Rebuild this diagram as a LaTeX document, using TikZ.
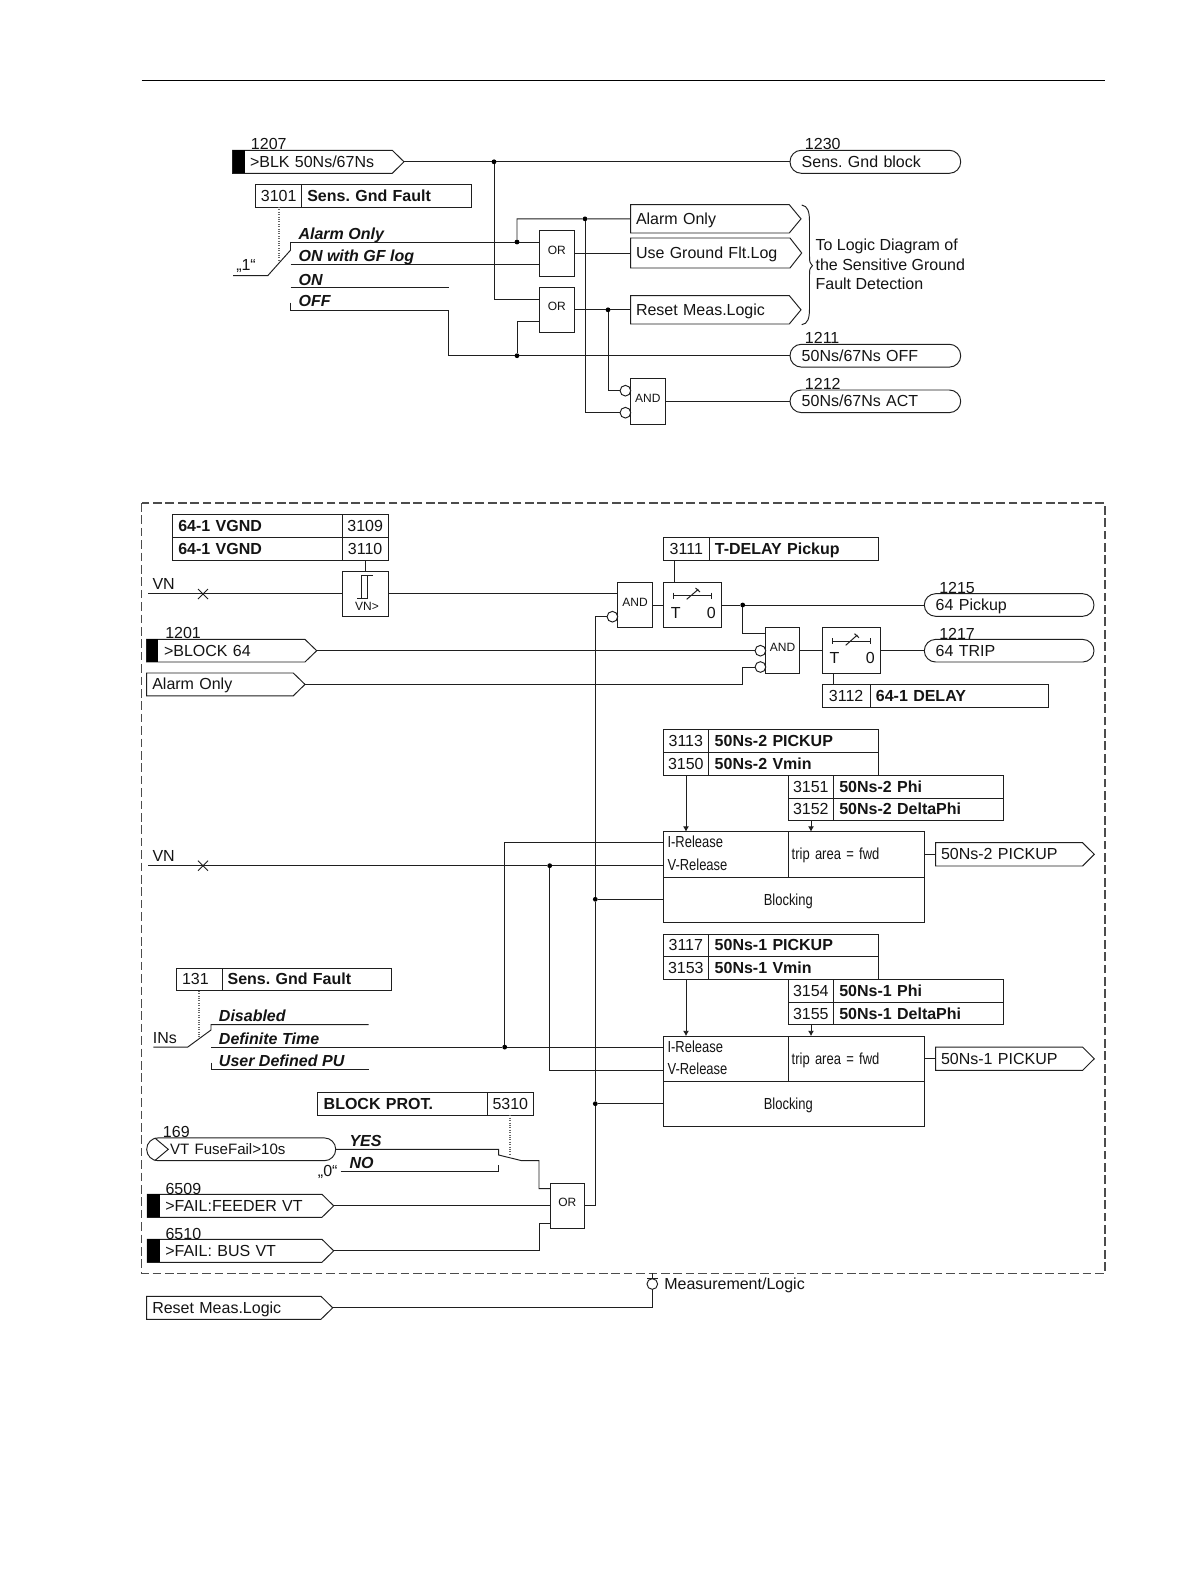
\documentclass[tikz,border=0pt]{standalone}
\usepackage{fontspec}
\setmainfont{Liberation Sans}
\newfontfamily\condf[FakeStretch=0.81]{Liberation Sans}
\usetikzlibrary{arrows.meta}
\AtBeginDocument{\frenchspacing}
\tikzset{
  wire/.style={line width=0.72pt,draw=black!88},
  cell/.style={draw=black!88,line width=0.72pt},
  gate/.style={draw=black!88,line width=0.72pt,font=\fontsize{9}{10}\selectfont,text height=3pt,text depth=1.5pt},
  bubble/.style={circle,draw=black!88,line width=0.72pt,minimum size=8pt,inner sep=0pt,outer sep=0pt},
  dot/.style={circle,fill=black,minimum size=3.6pt,inner sep=0pt,outer sep=0pt},
  txt/.style={anchor=base west,inner sep=0pt,yshift=-0.5pt},
  swt/.style={anchor=base west,inner sep=0pt,yshift=-0.75pt,font=\fontsize{12}{14}\selectfont\bfseries\itshape},
  boldtxt/.style={font=\fontsize{12}{14}\selectfont\bfseries},
  condt/.style={anchor=base west,inner sep=0pt,font=\fontsize{12}{14}\selectfont\condf},
  arr/.style={wire,-{Latex[length=4pt,width=4.5pt]}}
}
% centred box between two corners
\def\cellbox[#1]#2(#3,#4)(#5,#6)#7{%
  \node[minimum width={(#5-#3)*0.75pt},minimum height={(#6-#4)*0.75pt},inner sep=0pt,outer sep=0pt,text height=8.3pt,text depth=0pt,#1] (#2) at ({(#3+#5)/2},{(#4+#6)/2}) {#7};}
% box with left aligned text (inset in px)
\def\leftbox[#1]#2(#3,#4)(#5,#6)#7#8{%
  \pgfmathsetlengthmacro\tmpw{(#5-#3)*0.75pt}\pgfmathsetlengthmacro\tmpi{#7*0.75pt}%
  \node[minimum width=\tmpw,minimum height={(#6-#4)*0.75pt},text width=\tmpw,align=left,inner sep=0pt,outer sep=0pt,text height=8.3pt,text depth=0pt,#1] (#2) at ({(#3+#5)/2},{(#4+#6)/2}) {\hspace*{\tmpi}#8};}
\def\pentbox#1(#2,#3)(#4,#5)#6#7{%
  \leftbox[]{#1}(#2,#3)(#4,#5){#6}{#7}%
  \draw[wire] (#1.north west) -- ([xshift=-8.8pt]#1.north east) -- (#1.east) -- ([xshift=-8.8pt]#1.south east) -- (#1.south west) -- cycle;}
\def\rndbox#1(#2,#3)(#4,#5)#6#7{%
  \leftbox[]{#1}(#2,#3)(#4,#5){#6}{#7}%
  \draw[wire,rounded corners=8.5pt] (#1.south west) rectangle (#1.north east);}
\begin{document}
\begin{tikzpicture}[x=0.75pt,y=-0.75pt,every node/.style={font=\fontsize{12}{14}\selectfont,text=black!92}]
\useasboundingbox (0,0) rectangle (1191,1587);
\path[fill=white] (0,0) rectangle (1191,1587);
% header rule and dashed frame
\coordinate (ruleL) at (141.7,80.3);
\coordinate (ruleR) at (1105,80.3);
\draw[line width=0.7pt] (ruleL) -- (ruleR);
\draw[line width=0.8pt,draw=black!70,dash pattern=on 6.5pt off 2.8pt] (141.7,503) rectangle (1105,1273.3);

%% ------------------ upper diagram
\pentbox{blk}(232.5,150.3)(404,173.3){17.5}{>BLK 50Ns/67Ns}
\fill (blk.north west) rectangle ([xshift=9pt]blk.south west);
\node[txt] (n1207) at (250.7,149.3) {1207};
\rndbox{sgb}(790,150.3)(960.7,173.3){11.7}{Sens. Gnd block}
\node[txt] (n1230) at (804.7,149.3) {1230};
\cellbox[cell]{t3101a}(255.7,184.7)(301.7,207){3101}
\leftbox[cell,boldtxt]{t3101b}(301.7,184.7)(471,207){5.6}{Sens. Gnd Fault}
\cellbox[gate]{or1}(539.5,230)(574,276){OR}
\cellbox[gate]{or2}(539.5,287)(574,332.6){OR}
\cellbox[gate]{and0}(630.7,378.3)(665,424.3){AND}
\node[bubble] (b1) at (625.4,390.7) {};
\node[bubble] (b2) at (625.4,412.7) {};
\pentbox{alarm}(630.7,204.7)(801,233){5.3}{Alarm Only}
\pentbox{useg}(630.7,238)(801.7,268){5.3}{Use Ground Flt.Log}
\pentbox{reset}(630.7,295.6)(801,324){5.3}{Reset Meas.Logic}
\rndbox{off}(790,344.3)(960.7,367.1){11.7}{50Ns/67Ns OFF}
\node[txt] (n1211) at (804.7,343) {1211};
\rndbox{acts}(790,390)(960.7,412.6){11.7}{50Ns/67Ns ACT}
\node[txt] (n1212) at (804.7,389) {1212};
\node[dot] (j1) at (494,161.8) {};
\node[dot] (j2) at (517,242) {};
\node[dot] (j3) at (585,218.85) {};
\node[dot] (j4) at (608,309.8) {};
\node[dot] (j5) at (517,355.7) {};
\coordinate (or2i1) at (539.5,299);
\coordinate (or2i2) at (539.5,321.7);
\coordinate (or1i1) at (539.5,242);
\coordinate (or1i2) at (539.5,264.7);
\coordinate (swA) at (290.7,242);
\coordinate (swB) at (290.7,264.7);
\coordinate (swC) at (290.7,287);
\coordinate (swCe) at (448.7,287);
\coordinate (swDt) at (290.7,302.7);
\coordinate (swD) at (290.7,310.3);
\coordinate (swDe) at (448.7,310.3);
\coordinate (swE) at (448.7,355.7);
\coordinate (swIn) at (233,275.7);
\coordinate (swK) at (267.7,275.7);
\coordinate (swT) at (290.7,250);
\coordinate (dot1a) at (279,207);
\coordinate (dot1b) at (279,260);
\draw[wire] (blk.east) -- (j1) -- (sgb.west);
\draw[wire] (j1) |- (or2i1);
\draw[wire] (swA) -- (j2) -- (or1i1);
\draw[wire] (j2) |- (j3) -- (alarm.west);
\draw[wire] (j3) |- (b2.west);
\draw[wire] (swB) -- (or1i2);
\draw[wire] (swC) -- (swCe);
\draw[wire] (swDt) -- (swD) -- (swDe) -- (swE) -- (j5) -- (off.west);
\draw[wire] (j5) |- (or2i2);
\draw[wire] (or1.east) -- (useg.west);
\draw[wire] (or2.east) -- (j4) -- (reset.west);
\draw[wire] (j4) |- (b1.west);
\draw[wire] (and0.east) -- (acts.west);
\draw[wire] (swIn) -- (swK) -- (swT);
\draw[wire] (swA) -- (swT);
\draw[line width=0.8pt,draw=black!60,densely dotted] (dot1a) -- (dot1b);
\node[txt] (q1) at (236,270) {„1“};
\node[swt] (s1) at (298.3,238.3) {Alarm Only};
\node[swt] (s2) at (298.3,260.7) {ON with GF log};
\node[swt] (s3) at (298.3,284) {ON};
\node[swt] (s4) at (298.3,305.7) {OFF};
\draw[wire] (801.7,205) .. controls (808,206) and (809.5,212) .. (809.5,222) -- (809.5,256) .. controls (809.5,262) .. (812.5,265.7) .. controls (809.5,269) .. (809.5,275) -- (809.5,308) .. controls (809.5,318) and (808,324) .. (801.7,324.7);
\node[anchor=west,inner sep=0pt,align=left,font=\fontsize{12}{14.5}\selectfont] (note) at (815.3,264.3) {To Logic Diagram of\\the Sensitive Ground\\Fault Detection};

%% ------------------ lower diagram: 64-1
\leftbox[cell,boldtxt]{tv1}(172.3,514.3)(342.3,537.3){6}{64-1 VGND}
\cellbox[cell]{tv1n}(342.3,514.3)(388,537.3){3109}
\leftbox[cell,boldtxt]{tv2}(172.3,537.3)(342.3,560){6}{64-1 VGND}
\cellbox[cell]{tv2n}(342.3,537.3)(388,560){3110}
\cellbox[cell]{vnbox}(342.3,571.3)(388,616.3){}
\node[anchor=base,inner sep=0pt,font=\fontsize{9}{10}\selectfont] (vnlab) at (367,610.7) {VN>};
\draw[wire] (357,598) -- (367.7,598) -- (367.7,575) -- (373.3,575) (361.7,598) -- (361.7,575) -- (367.7,575);
\draw[wire] (tv2n.south) -- (vnbox.north);
\node[txt] (vn1) at (152.3,589) {VN};
\coordinate (vnS) at (148,593.7);
\coordinate (vnI) at (342.3,593.7);
\coordinate (vnO) at (388,593.7);
\coordinate (and1i) at (617.7,593.7);
\draw[wire] (vnS) -- (vnI);
\draw[wire] (vnO) -- (and1i);
\draw[wire] (198,589) -- (208,599) (198,599) -- (208,589);
\cellbox[gate]{and1}(617.7,582.3)(652.3,627.7){AND}
\node[bubble] (b3) at (612.4,616.7) {};
\cellbox[cell]{tm1}(663.3,582.3)(721.3,627.7){}
\node[txt] (tm1T) at (670.7,618.3) {T};
\node[txt] (tm1Z) at (706.7,618.3) {0};
\draw[wire] (673.3,592.7) -- (673.3,598.7) (673.3,595.7) -- (711.7,595.7) (711.7,592.7) -- (711.7,598.7);
\draw[wire] (686.7,599.3) -- (698.3,589.3) (695.5,588) -- (700,592);
\draw[wire] (and1.east) -- (tm1.west);
\cellbox[cell]{t3111a}(663.3,537.3)(709.3,560){3111}
\leftbox[cell,boldtxt]{t3111b}(709.3,537.3)(878.3,560){5.6}{T-DELAY Pickup}
\coordinate (c3111) at (674.3,560);
\coordinate (c3111b) at (674.3,582.3);
\draw[wire] (c3111) -- (c3111b);
\node[dot] (j6) at (742.7,605) {};
\rndbox{pick}(924.3,593.7)(1094,616.3){11.4}{64 Pickup}
\node[txt] (n1215) at (939,593) {1215};
\draw[wire] (tm1.east) -- (j6) -- (pick.west);
\cellbox[gate]{and2}(765.7,627.7)(799.3,673.7){AND}
\coordinate (and2i) at (765.7,633.7);
\draw[wire] (j6) |- (and2i);
\node[bubble] (b4) at (760.4,650.7) {};
\node[bubble] (b5) at (760.4,667) {};
\cellbox[cell]{tm2}(822,627.7)(880.3,673.7){}
\node[txt] (tm2T) at (829.3,663.3) {T};
\node[txt] (tm2Z) at (865.7,663.3) {0};
\draw[wire] (832.3,638.3) -- (832.3,644.3) (832.3,641.3) -- (870.7,641.3) (870.7,638.3) -- (870.7,644.3);
\draw[wire] (845.7,645.3) -- (857.3,635) (854.5,633.7) -- (859,637.7);
\draw[wire] (and2.east) -- (tm2.west);
\rndbox{trip}(924.3,639.4)(1094,662){11.4}{64 TRIP}
\node[txt] (n1217) at (939,638.5) {1217};
\draw[wire] (tm2.east) -- (trip.west);
\cellbox[cell]{t3112a}(822,684.3)(870.3,707.7){3112}
\leftbox[cell,boldtxt]{t3112b}(870.3,684.3)(1048.7,707.7){5.6}{64-1 DELAY}
\coordinate (c3112) at (833.3,673.7);
\coordinate (c3112b) at (833.3,684.3);
\draw[wire] (c3112) -- (c3112b);
\pentbox{blk64}(146.7,639.4)(316.7,662){17.3}{>BLOCK 64}
\fill (blk64.north west) rectangle ([xshift=8.8pt]blk64.south west);
\node[txt] (n1201) at (165,638) {1201};
\draw[wire] (blk64.east) -- (b4.west);
\pentbox{alm2}(146.7,673)(305,695.8){5.6}{Alarm Only}
\coordinate (alm2t) at (742.7,684.4);
\draw[wire] (alm2.east) -- (alm2t) |- (b5.west);

%% ------------------ 50Ns-2
\cellbox[cell]{a1}(663.3,729.7)(708.3,752.3){3113}
\leftbox[cell,boldtxt]{a1b}(708.3,729.7)(878.7,752.3){6.4}{50Ns-2 PICKUP}
\cellbox[cell]{a2}(663.3,752.3)(708.3,775){3150}
\leftbox[cell,boldtxt]{a2b}(708.3,752.3)(878.7,775){6.4}{50Ns-2 Vmin}
\cellbox[cell]{a3}(788.3,775)(833.3,798){3151}
\leftbox[cell,boldtxt]{a3b}(833.3,775)(1003.3,798){6}{50Ns-2 Phi}
\cellbox[cell]{a4}(788.3,798)(833.3,820.3){3152}
\leftbox[cell,boldtxt]{a4b}(833.3,798)(1003.3,820.3){6}{50Ns-2 DeltaPhi}
\cellbox[cell]{a5}(663.3,831.7)(788.3,877){}
\node[condt] (a5i) at (667.3,847.7) {I-Release};
\node[condt] (a5v) at (667.3,870) {V-Release};
\leftbox[cell,font=\fontsize{12}{14}\selectfont\condf]{a6}(788.3,831.7)(924.7,877){3.4}{trip area = fwd}
\leftbox[cell,font=\fontsize{12}{14}\selectfont\condf]{a7}(663.3,877)(924.7,922.3){100.5}{Blocking}
\coordinate (aA) at (686,775);
\coordinate (aAe) at (686,831.7);
\coordinate (aB) at (811,820.3);
\coordinate (aBe) at (811,831.7);
\draw[arr] (aA) -- (aAe);
\draw[arr] (aB) -- (aBe);
\pentbox{aout}(935.7,842.7)(1094.3,866){5.3}{50Ns-2 PICKUP}
\draw[wire] (a6.east) -- (aout.west);

%% ------------------ 50Ns-1
\cellbox[cell]{c1}(663.3,934.1)(708.3,956.7){3117}
\leftbox[cell,boldtxt]{c1b}(708.3,934.1)(878.7,956.7){6.4}{50Ns-1 PICKUP}
\cellbox[cell]{c2}(663.3,956.7)(708.3,979.4){3153}
\leftbox[cell,boldtxt]{c2b}(708.3,956.7)(878.7,979.4){6.4}{50Ns-1 Vmin}
\cellbox[cell]{c3}(788.3,979.4)(833.3,1002.4){3154}
\leftbox[cell,boldtxt]{c3b}(833.3,979.4)(1003.3,1002.4){6}{50Ns-1 Phi}
\cellbox[cell]{c4}(788.3,1002.4)(833.3,1024.7){3155}
\leftbox[cell,boldtxt]{c4b}(833.3,1002.4)(1003.3,1024.7){6}{50Ns-1 DeltaPhi}
\cellbox[cell]{c5}(663.3,1036.1)(788.3,1081.4){}
\node[condt] (c5i) at (667.3,1052.1) {I-Release};
\node[condt] (c5v) at (667.3,1074.4) {V-Release};
\leftbox[cell,font=\fontsize{12}{14}\selectfont\condf]{c6}(788.3,1036.1)(924.7,1081.4){3.4}{trip area = fwd}
\leftbox[cell,font=\fontsize{12}{14}\selectfont\condf]{c7}(663.3,1081.4)(924.7,1126.7){100.5}{Blocking}
\coordinate (cA) at (686,979.4);
\coordinate (cAe) at (686,1036.1);
\coordinate (cB) at (811,1024.7);
\coordinate (cBe) at (811,1036.1);
\draw[arr] (cA) -- (cAe);
\draw[arr] (cB) -- (cBe);
\pentbox{cout}(935.7,1047.1)(1094.3,1070.4){5.3}{50Ns-1 PICKUP}
\draw[wire] (c6.east) -- (cout.west);

%% ------------------ VN 2 and release wiring
\node[txt] (vn2) at (152.3,861) {VN};
\coordinate (vn2S) at (148,865.7);
\coordinate (aVi) at (663.3,865.7);
\coordinate (aIi) at (663.3,842.7);
\coordinate (cIi) at (663.3,1047.1);
\coordinate (cVi) at (663.3,1070.1);
\node[dot] (j7) at (549.7,865.7) {};
\node[dot] (j8) at (504.7,1047.1) {};
\draw[wire] (vn2S) -- (j7) -- (aVi);
\draw[wire] (j7) |- (cVi);
\draw[wire] (198,860.7) -- (208,870.7) (198,870.7) -- (208,860.7);
\draw[wire] (j8) |- (aIi);
\coordinate (insA) at (211,1047.1);
\draw[wire] (insA) -- (j8) -- (cIi);

%% ------------------ INs selector
\leftbox[cell]{t131a}(176,968)(222,990.7){6}{131}
\leftbox[cell,boldtxt]{t131b}(222,968)(391.3,990.7){5.6}{Sens. Gnd Fault}
\coordinate (dot2a) at (199,990.7);
\coordinate (dot2b) at (199,1038);
\draw[line width=0.8pt,draw=black!60,densely dotted] (dot2a) -- (dot2b);
\coordinate (inS) at (153.3,1047.1);
\coordinate (inK) at (187.7,1047.1);
\coordinate (inT) at (211,1030);
\coordinate (inA) at (211,1024.7);
\coordinate (inAe) at (368.7,1024.7);
\coordinate (inCt) at (211,1062.7);
\coordinate (inC) at (211,1069.7);
\coordinate (inCe) at (368.7,1069.7);
\draw[wire] (inS) -- (inK) -- (inT) -- (inA) -- (inAe);
\draw[wire] (inCt) -- (inC) -- (inCe);
\node[txt,yshift=0.5pt] (ins) at (152.7,1043) {INs};
\node[swt] (d1) at (218.7,1020.7) {Disabled};
\node[swt] (d2) at (218.7,1043.7) {Definite Time};
\node[swt] (d3) at (218.7,1065.3) {User Defined PU};

%% ------------------ block prot
\leftbox[cell,boldtxt]{bp}(317.7,1092.7)(487.3,1115.3){6}{BLOCK PROT.}
\cellbox[cell]{bpn}(487.3,1092.7)(533.3,1115.3){5310}
\coordinate (dot3a) at (510,1115.3);
\coordinate (dot3b) at (510,1155);
\draw[line width=0.8pt,draw=black!60,densely dotted] (dot3a) -- (dot3b);
\rndbox{vtf}(146.7,1137.9)(335.7,1160.7){23.3}{\fontsize{11.3}{14}\selectfont VT FuseFail>10s}
\draw[wire] ([xshift=6pt]vtf.north west) -- (168.3,1149.3) -- ([xshift=6pt]vtf.south west);
\node[txt] (n169) at (162.7,1136.7) {169};
\coordinate (yesE) at (498.7,1149.3);
\coordinate (yesT) at (498.7,1155);
\coordinate (noS) at (340.7,1171.7);
\coordinate (noE) at (498.7,1171.7);
\coordinate (noT) at (498.7,1165);
\coordinate (swM) at (521.7,1160.7);
\coordinate (swN) at (539,1160.7);
\coordinate (or3a) at (550.3,1188.7);
\coordinate (or3c) at (550.3,1223.3);
\coordinate (busK) at (539,1250.8);
\draw[wire] (vtf.east) -- (yesE) -- (yesT) -- (swM) -- (swN) |- (or3a);
\draw[wire] (noS) -- (noE) -- (noT);
\node[swt] (y1) at (349.3,1145.7) {YES};
\node[swt] (y2) at (349.3,1167.3) {NO};
\node[txt] (q0) at (317.7,1176) {„0“};
\cellbox[gate]{or3}(550.3,1183.3)(584.3,1228.3){OR}
\pentbox{feed}(147.3,1194.3)(333.7,1217.3){18}{>FAIL:FEEDER VT}
\fill (feed.north west) rectangle ([xshift=9.5pt]feed.south west);
\node[txt] (n6509) at (165.3,1193.7) {6509};
\coordinate (or3b) at (550.3,1205.8);
\draw[wire] (feed.east) -- (or3b);
\pentbox{bus}(147.3,1239.3)(333.7,1262.3){18}{>FAIL: BUS VT}
\fill (bus.north west) rectangle ([xshift=9.5pt]bus.south west);
\node[txt] (n6510) at (165.3,1238.7) {6510};
\draw[wire] (bus.east) -- (busK) |- (or3c);
\coordinate (blkV) at (595.3,1205.8);
\node[dot] (j9) at (595.3,899.3) {};
\node[dot] (j10) at (595.3,1103.7) {};
\coordinate (aBi) at (663.3,899.3);
\coordinate (cBi) at (663.3,1103.7);
\draw[wire] (or3.east) -- (blkV) -- (j10) -- (j9) |- (b3.west);
\draw[wire] (j9) -- (aBi);
\draw[wire] (j10) -- (cBi);

%% ------------------ reset
\pentbox{rst}(146.7,1296.3)(332.7,1319.3){5.6}{Reset Meas.Logic}
\node[bubble] (b6) at (652.3,1284) {};
\coordinate (framePt) at (652.3,1273.3);
\coordinate (barT) at (652.3,1278.3);
\coordinate (barL) at (647,1278.3);
\coordinate (barR) at (657.7,1278.3);
\coordinate (rstK) at (652.3,1307.8);
\draw[wire] (rst.east) -- (rstK) -- (b6.south);
\draw[wire] (framePt) -- (barT) (barL) -- (barR);
\node[txt] (meas) at (664,1289) {Measurement/Logic};
\end{tikzpicture}
\end{document}
